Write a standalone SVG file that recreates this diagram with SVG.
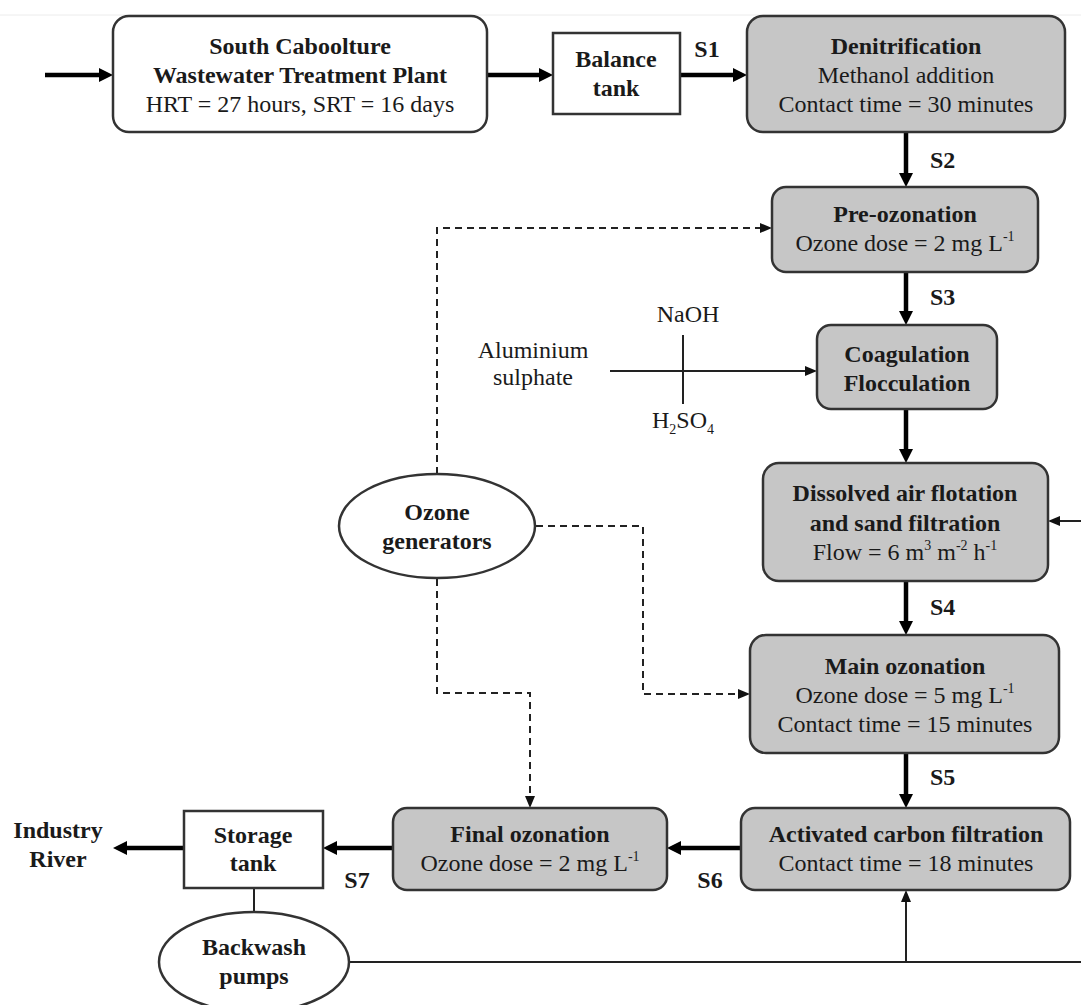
<svg xmlns="http://www.w3.org/2000/svg" width="1081" height="1005" viewBox="0 0 1081 1005">
<style>
  text { font-family: "Liberation Serif", "Times New Roman", serif; font-size: 24px; fill: #1a1a1a; text-anchor: middle; }
  .b { font-weight: bold; }
  .lbl { font-weight: bold; text-anchor: start; }
  .box { fill: #ffffff; stroke: #333333; stroke-width: 2.5; }
  .gbox { fill: #c6c6c6; stroke: #333333; stroke-width: 2.5; }
  .thick { fill: none; stroke: #000000; stroke-width: 4.5; }
  .thin { fill: none; stroke: #222222; stroke-width: 2; }
  .dash { fill: none; stroke: #222222; stroke-width: 2; stroke-dasharray: 7 5; }
</style>
<defs>
  <marker id="ah" markerUnits="userSpaceOnUse" markerWidth="14" markerHeight="14" refX="8" refY="7" orient="auto">
    <path d="M0,0 L14,7 L0,14 Z" fill="#000000"/>
  </marker>
  <marker id="as" markerUnits="userSpaceOnUse" markerWidth="12" markerHeight="10" refX="7" refY="5" orient="auto">
    <path d="M0,0 L12,5 L0,10 Z" fill="#111111"/>
  </marker>
</defs>
<rect x="0" y="0" width="1081" height="1005" fill="#ffffff"/>
<line x1="0" y1="15" x2="1081" y2="15" stroke="#ececec" stroke-width="1"/>

<g id="connectors">
  <path class="thick" d="M45,75 H107" marker-end="url(#ah)"/>
  <path class="thick" d="M487,75 H547" marker-end="url(#ah)"/>
  <path class="thick" d="M680,75 H741" marker-end="url(#ah)"/>
  <path class="thick" d="M906,132 V181" marker-end="url(#ah)"/>
  <path class="thick" d="M906,272 V319" marker-end="url(#ah)"/>
  <path class="thick" d="M906,409 V457" marker-end="url(#ah)"/>
  <path class="thick" d="M906,581 V629" marker-end="url(#ah)"/>
  <path class="thick" d="M906,753 V802" marker-end="url(#ah)"/>
  <path class="thick" d="M741,848 H673" marker-end="url(#ah)"/>
  <path class="thick" d="M393,848 H329" marker-end="url(#ah)"/>
  <path class="thick" d="M184,848 H119" marker-end="url(#ah)"/>
  <path class="thin" d="M610,371 H812" marker-end="url(#as)"/>
  <path class="thin" d="M683,335 V404"/>
  <path class="thin" d="M1081,521 H1053" marker-end="url(#as)"/>
  <path class="thin" d="M254,888 V912"/>
  <path class="thin" d="M349,962 H1081"/>
  <path class="thin" d="M906,962 V895" marker-end="url(#as)"/>
  <path class="dash" d="M437,474 V228 H767" marker-end="url(#as)"/>
  <path class="dash" d="M536,526 H643 V694 H745" marker-end="url(#as)"/>
  <path class="dash" d="M437,579 V693 H530 V803" marker-end="url(#as)"/>
</g>

<g id="stream-labels">
  <text class="b" x="707" y="57">S1</text>
  <text class="lbl" x="930" y="168">S2</text>
  <text class="lbl" x="930" y="305">S3</text>
  <text class="lbl" x="930" y="615">S4</text>
  <text class="lbl" x="930" y="785">S5</text>
  <text class="b" x="710" y="888">S6</text>
  <text class="b" x="357" y="888">S7</text>
</g>

<g id="plant">
  <rect class="box" x="113" y="16" width="374" height="116" rx="16"/>
  <text class="b" x="300" y="54">South Caboolture</text>
  <text class="b" x="300" y="83">Wastewater Treatment Plant</text>
  <text x="300" y="112">HRT = 27 hours, SRT = 16 days</text>
</g>

<g id="balance-tank">
  <rect class="box" x="553" y="33" width="127" height="81"/>
  <text class="b" x="616" y="67">Balance</text>
  <text class="b" x="616" y="96">tank</text>
</g>

<g id="denitrification">
  <rect class="gbox" x="747" y="16" width="318" height="116" rx="16"/>
  <text class="b" x="906" y="54">Denitrification</text>
  <text x="906" y="83">Methanol addition</text>
  <text x="906" y="112">Contact time = 30 minutes</text>
</g>

<g id="pre-ozonation">
  <rect class="gbox" x="772" y="187" width="266" height="85" rx="14"/>
  <text class="b" x="905" y="222">Pre-ozonation</text>
  <text x="905" y="251">Ozone dose = 2 mg L<tspan font-size="14" dy="-10">-1</tspan></text>
</g>

<g id="chemicals">
  <text x="688" y="322">NaOH</text>
  <text x="533" y="358">Aluminium</text>
  <text x="533" y="385">sulphate</text>
  <text x="683" y="428">H<tspan font-size="14" dy="6">2</tspan><tspan dy="-6">SO</tspan><tspan font-size="14" dy="6">4</tspan></text>
</g>

<g id="coagulation">
  <rect class="gbox" x="817" y="325" width="180" height="84" rx="14"/>
  <text class="b" x="907" y="362">Coagulation</text>
  <text class="b" x="907" y="391">Flocculation</text>
</g>

<g id="daf">
  <rect class="gbox" x="763" y="463" width="285" height="118" rx="16"/>
  <text class="b" x="905" y="501">Dissolved air flotation</text>
  <text class="b" x="905" y="531">and sand filtration</text>
  <text x="905" y="560">Flow = 6 m<tspan font-size="14" dy="-10">3</tspan><tspan dy="10"> m</tspan><tspan font-size="14" dy="-10">-2</tspan><tspan dy="10"> h</tspan><tspan font-size="14" dy="-10">-1</tspan></text>
</g>

<g id="ozone-generators">
  <ellipse class="box" cx="437" cy="526" rx="98" ry="52"/>
  <text class="b" x="437" y="520">Ozone</text>
  <text class="b" x="437" y="549">generators</text>
</g>

<g id="main-ozonation">
  <rect class="gbox" x="750" y="635" width="309" height="118" rx="16"/>
  <text class="b" x="905" y="674">Main ozonation</text>
  <text x="905" y="703">Ozone dose = 5 mg L<tspan font-size="14" dy="-10">-1</tspan></text>
  <text x="905" y="732">Contact time = 15 minutes</text>
</g>

<g id="activated-carbon">
  <rect class="gbox" x="741" y="808" width="329" height="82" rx="14"/>
  <text class="b" x="906" y="842">Activated carbon filtration</text>
  <text x="906" y="871">Contact time = 18 minutes</text>
</g>

<g id="final-ozonation">
  <rect class="gbox" x="393" y="808" width="274" height="82" rx="14"/>
  <text class="b" x="530" y="842">Final ozonation</text>
  <text x="530" y="871">Ozone dose = 2 mg L<tspan font-size="14" dy="-10">-1</tspan></text>
</g>

<g id="storage-tank">
  <rect class="box" x="184" y="811" width="139" height="77"/>
  <text class="b" x="253" y="843">Storage</text>
  <text class="b" x="253" y="871">tank</text>
</g>

<g id="outlet">
  <text class="b" x="58" y="838">Industry</text>
  <text class="b" x="58" y="867">River</text>
</g>

<g id="backwash-pumps">
  <ellipse class="box" cx="254" cy="962" rx="95" ry="50"/>
  <text class="b" x="254" y="955">Backwash</text>
  <text class="b" x="254" y="984">pumps</text>
</g>
</svg>
